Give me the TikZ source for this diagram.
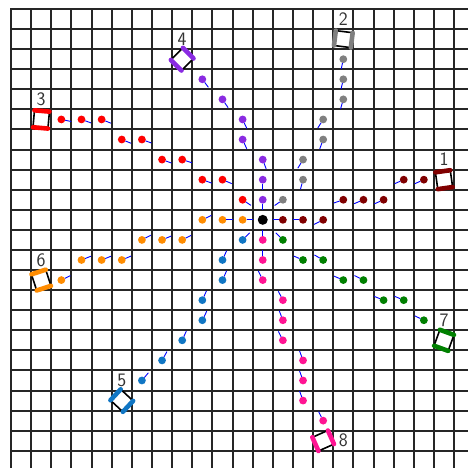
\documentclass[tikz,border=0pt]{standalone}
\usepackage{tikz}
\definecolor{cRed}{RGB}{255,0,0}
\definecolor{cGray}{RGB}{128,128,128}
\definecolor{cPurple}{RGB}{138,43,226}
\definecolor{cMaroon}{RGB}{128,0,0}
\definecolor{cOrange}{RGB}{255,140,0}
\definecolor{cBlue}{RGB}{16,118,196}
\definecolor{cPink}{RGB}{255,20,147}
\definecolor{cGreen}{RGB}{0,128,0}
\begin{document}
\begin{tikzpicture}[x=20.14pt,y=-20.08pt,
  gridline/.style={line width=1.8pt, black!85, line cap=rect},
  dot/.style={circle, inner sep=0pt, outer sep=0pt, minimum size=7.8pt},
  hub/.style={circle, inner sep=0pt, outer sep=0pt, minimum size=10pt, fill=black},
  head/.style={blue, line width=0.9pt},
  robot/.style={rectangle, draw=black, line width=1.6pt, minimum width=15pt, minimum height=17pt, inner sep=0pt, outer sep=0pt, fill=white},
  strip/.style={line width=4.6pt, line cap=round},
  lbl/.style={font=\sffamily\fontsize{19}{19}\selectfont, text=black!80, inner sep=0pt}]
\useasboundingbox (-11pt,9pt) rectangle (457pt,-459pt);
\begin{scope}
\clip (-11pt,9pt) rectangle (457pt,-459pt);
\foreach \i in {0,...,22} {
  \pgfmathsetmacro\gx{round(11+20.14*\i)-11}
  \draw[gridline] (\gx pt,0pt) -- (\gx pt,-470pt);
}
\foreach \j in {0,...,22} {
  \pgfmathsetmacro\gy{round(9+20.08*\j)-9}
  \draw[gridline] (0pt,-\gy pt) -- (470pt,-\gy pt);
}
\end{scope}
% arm 3 (red)
\foreach \c/\r/\a [count=\k] in {2/5/12, 3/5/20, 4/5/22, 5/6/22, 6/6/20, 7/7/20, 8/7/18, 9/8/20, 10/8/23, 11/9/34} {
  \node[dot, fill=cRed] (r3-\k) at (\c+0.5,\r+0.5) {};
  \draw[head] (r3-\k) -- ++(\a:0.5);
}
% arm 4 (purple)
\foreach \c/\r/\a [count=\k] in {9/3/53, 10/4/56, 11/5/65, 11/6/66, 12/7/70, 12/8/90, 12/9/90} {
  \node[dot, fill=cPurple] (r4-\k) at (\c+0.5,\r+0.5) {};
  \draw[head] (r4-\k) -- ++(\a:0.5);
}
% arm 2 (gray)
\foreach \c/\r/\a [count=\k] in {16/2/102, 16/3/103, 16/4/106, 15/5/122, 15/6/110, 14/7/121, 14/8/105, 13/9/145} {
  \node[dot, fill=cGray] (r2-\k) at (\c+0.5,\r+0.5) {};
  \draw[head] (r2-\k) -- ++(\a:0.5);
}
% arm 1 (maroon)
\foreach \c/\r/\a [count=\k] in {13/10/180, 14/10/180, 15/10/153, 16/9/161, 17/9/157, 18/9/156, 19/8/156, 20/8/156} {
  \node[dot, fill=cMaroon] (r1-\k) at (\c+0.5,\r+0.5) {};
  \draw[head] (r1-\k) -- ++(\a:0.5);
}
% arm 6 (orange)
\foreach \c/\r/\a [count=\k] in {11/10/0, 10/10/0, 9/10/-26, 8/11/-27, 7/11/-23, 6/11/-28, 5/12/-23, 4/12/-22, 3/12/-22, 2/13/-26} {
  \node[dot, fill=cOrange] (r6-\k) at (\c+0.5,\r+0.5) {};
  \draw[head] (r6-\k) -- ++(\a:0.5);
}
% arm 5 (blue)
\foreach \c/\r/\a [count=\k] in {11/11/-45, 10/12/-66, 10/13/-66, 9/14/-66, 9/15/-64, 8/16/-66, 7/17/-61, 6/18/-50} {
  \node[dot, fill=cBlue] (r5-\k) at (\c+0.5,\r+0.5) {};
  \draw[head] (r5-\k) -- ++(\a:0.5);
}
% arm 8 (pink)
\foreach \c/\r/\a [count=\k] in {12/11/-90, 12/12/-90, 12/13/-116, 13/14/-117, 13/15/-111, 13/16/-117, 14/17/-110, 14/18/-110, 14/19/-110, 15/20/-117} {
  \node[dot, fill=cPink] (r8-\k) at (\c+0.5,\r+0.5) {};
  \draw[head] (r8-\k) -- ++(\a:0.5);
}
% arm 7 (green)
\foreach \c/\r/\a [count=\k] in {13/11/-135, 14/12/-157, 15/12/-150, 16/13/-157, 17/13/-153, 18/14/-158, 19/14/-157, 20/15/-154} {
  \node[dot, fill=cGreen] (r7-\k) at (\c+0.5,\r+0.5) {};
  \draw[head] (r7-\k) -- ++(\a:0.5);
}
% hub
\node[hub] (hub) at (12.5,10.5) {};
% robots
\foreach \n/\c/\r/\rot/\col in {1/21/8/8/cMaroon, 2/16/1/83/cGray, 3/1/5/-5/cRed, 4/8/2/-45/cPurple, 5/5/19/47/cBlue, 6/1/13/18/cOrange, 7/21/16/-20/cGreen, 8/15/21/-66/cPink} {
  \node[robot, rotate=\rot] (rob\n) at (\c+0.5,\r+0.5) {};
  \draw[strip, \col] (rob\n.north west) -- (rob\n.north east);
  \draw[strip, \col] (rob\n.south west) -- (rob\n.south east);
}
% labels
\foreach \n/\c/\r in {1/21/7, 2/16/0, 3/1/4, 4/8/1, 5/5/18, 6/1/12, 7/21/15, 8/16/21}
  \node[lbl] (lab\n) at (\c+0.5,\r+0.5) {\n};
\end{tikzpicture}
\end{document}
